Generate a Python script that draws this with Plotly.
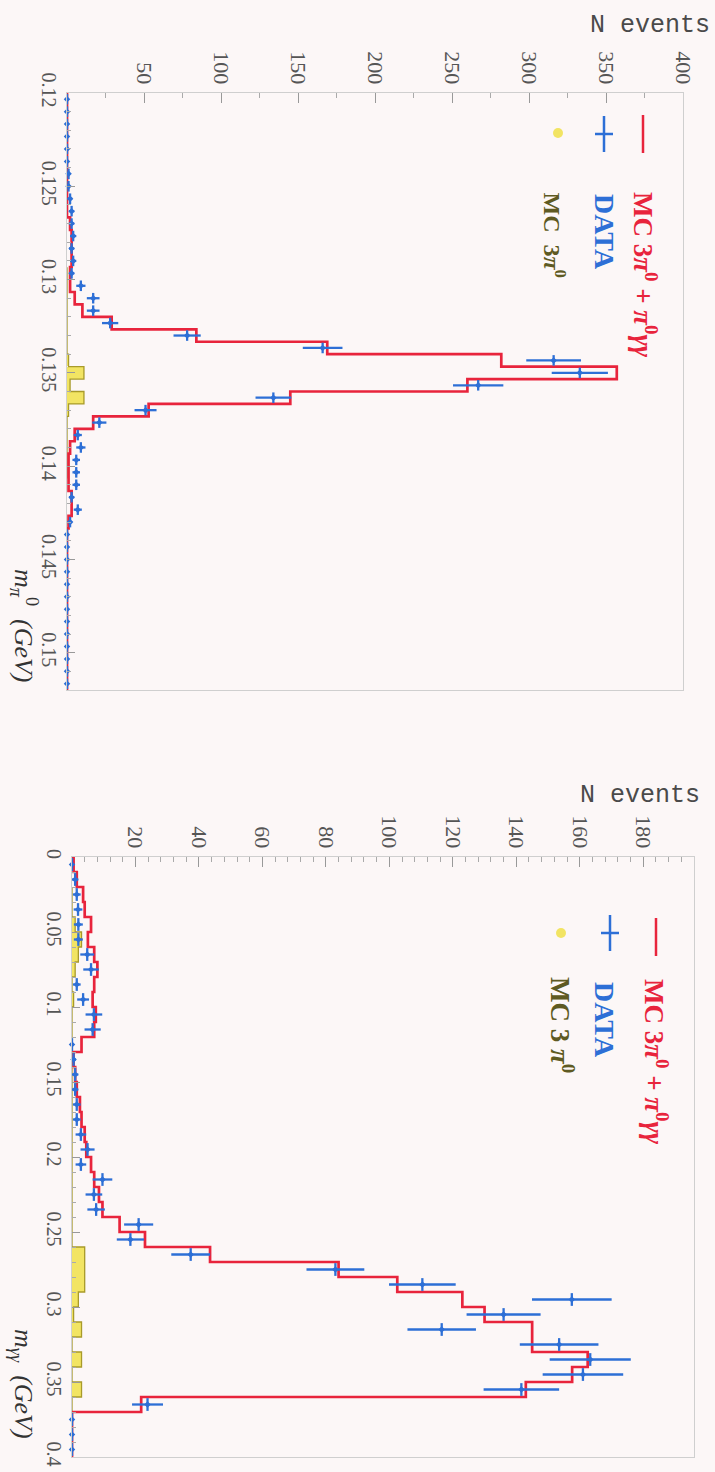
import numpy as np
import plotly.graph_objects as go

W, H = 715, 1472

# ---------------- data: top panel (m_pi0) ----------------
top_m_min = 0.12
top_bin_width = 0.032 / 48
top_mc_total = [0, 0, 0, 0, 0, 0, 0, 0, 0, 0,
                 2, 3, 3, 3, 2, 2, 5, 10, 29, 84,
                 169, 282, 357, 260, 145, 53, 17, 5, 2, 1,
                 1, 1, 3, 3, 1, 0, 0, 0, 0, 0,
                 0, 0, 0, 0, 0, 0, 0, 0]
top_data = [0, 0, 0, 0, 0, 0, 1, 1, 2, 3,
            3, 4, 3, 4, 3, 9, 17, 17, 28, 78,
            166, 316, 333, 267, 134, 51, 21, 7, 9, 6,
            6, 6, 3, 7, 2, 0, 0, 0, 0, 0,
            0, 0, 0, 0, 0, 0, 0, 0]
top_mc3pi0 = [None] * 14 + [0, 0, 0, 0, 0, 0, 0, 1, 11, 2,
                            11, 1, 0, 0, 0, 0, 0] + [None] * 17

# ---------------- data: bottom panel (m_gg) ----------------
bot_m_min = 0.0
bot_bin_width = 0.01
bot_mc_total = [0.5, 1.5, 3.5, 4, 6, 5, 7, 8, 7, 6.5,
                7.5, 7, 3, 0.5, 1, 1.5, 2.5, 3, 4, 4.5,
                6, 7, 8.5, 9.6, 15, 23, 43.5, 84, 102.5, 123,
                130, 145, 145, 162.5, 157.6, 143, 21.8, 0, 0, 0]
bot_data = [0, 1, 1.5, 1.9, 2, 2, 4.8, 6, 1.5, 3.5,
            6.9, 6.5, 0, 0.5, 1, 1, 1.5, 1.5, 2.8, 4.9,
            2.8, 9.6, 6.9, 7.6, 21, 18.4, 37.4, 83, 110.4, 157.5,
            136, 116.5, 153.5, 163.3, 161, 141.6, 23.8, 0, 0, 0]
bot_mc3pi0 = [None, None, 0, 0, 1, 3, 2, 1, 0, 0.5,
              0, 0, 0, 0, 0, 0, 0, 0, 0, 0,
              0, 0, 0, 0, 0, 0, 4, 4, 4, 2,
              0.5, 3, 0, 3, 0, 3, 0, 0, None, None]

top_ticks_N = [50, 100, 150, 200, 250, 300, 350, 400]
bot_ticks_N = [20, 40, 60, 80, 100, 120, 140, 160, 180]
top_ticks_m = [0.12, 0.125, 0.13, 0.135, 0.14, 0.145, 0.15]
top_ticks_m_text = ['0.12', '0.125', '0.13', '0.135', '0.14', '0.145', '0.15']
bot_ticks_m = [0, 0.05, 0.1, 0.15, 0.2, 0.25, 0.3, 0.35, 0.4]
bot_ticks_m_text = ['0', '0.05', '0.1', '0.15', '0.2', '0.25', '0.3', '0.35', '0.4']

RED = '#e8243c'
BLUE = '#2d6fd6'
YEL = '#f2e463'
OLIVE = '#a89a2a'
TXT_OLIVE = '#5e5a22'
BG = '#fcf7f7'


def px(xp):
    return xp / W


def py(yp):
    return 1 - yp / H


def add_panel(fig, xa, ya, m_min, bw, mc, data, mc3):
    n = len(mc)
    edges = m_min + bw * np.arange(n + 1)
    centers = edges[:-1] + bw / 2
    mc3_arr = np.array([np.nan if v is None else v for v in mc3], dtype=float)
    # MC 3pi0 yellow blocks
    fig.add_trace(go.Bar(x=mc3_arr, y=centers, orientation='h', width=bw * 0.95,
                         marker=dict(color=YEL, line=dict(width=0)),
                         xaxis=xa, yaxis=ya, showlegend=False))
    # MC 3pi0 outline (olive thin)
    idx = np.where(~np.isnan(mc3_arr))[0]
    ex = list(mc3_arr[idx]) + [mc3_arr[idx[-1]]]
    ey = list(edges[idx]) + [edges[idx[-1] + 1]]
    fig.add_trace(go.Scatter(x=ex, y=ey, mode='lines', line=dict(color=OLIVE, width=1.3, shape='vh'),
                             xaxis=xa, yaxis=ya, showlegend=False, cliponaxis=False))
    # MC total histogram (red)
    sx = [0] + list(mc) + [mc[-1]]
    sy = [edges[0]] + list(edges[:-1]) + [edges[-1]]
    fig.add_trace(go.Scatter(x=sx, y=sy, mode='lines', line=dict(color=RED, width=2.7, shape='vh'),
                             xaxis=xa, yaxis=ya, showlegend=False, cliponaxis=False))
    # DATA crosses
    d = np.array(data, dtype=float)
    fig.add_trace(go.Scatter(x=d, y=centers, mode='markers',
                             marker=dict(color=BLUE, size=5, symbol='diamond'),
                             error_x=dict(type='data', array=np.sqrt(d), color=BLUE, thickness=2.3, width=0),
                             error_y=dict(type='constant', value=bw / 2 * 0.85, color=BLUE, thickness=2.3, width=0),
                             xaxis=xa, yaxis=ya, showlegend=False, cliponaxis=False))


fig = go.Figure()
add_panel(fig, 'x', 'y', top_m_min, top_bin_width, top_mc_total, top_data, top_mc3pi0)
add_panel(fig, 'x2', 'y2', bot_m_min, bot_bin_width, bot_mc_total, bot_data, bot_mc3pi0)

xtickfont = dict(family='Liberation Serif', size=22, color='#555555')
ytickfont = dict(family='Liberation Serif', size=20, color='#555555')
common_x = dict(side='top', ticks='inside', ticklen=10, tickcolor='#999', tickangle=90,
                showline=True, mirror=True, linecolor='#cfcfcf', linewidth=1, automargin=False,
                showgrid=False, zeroline=False, tickfont=xtickfont)
common_y = dict(ticks='inside', ticklen=8, tickcolor='#999', tickangle=90, automargin=False,
                showline=True, mirror=True, linecolor='#cfcfcf', linewidth=1,
                showgrid=False, zeroline=False, tickfont=ytickfont)

fig.update_layout(
    width=W, height=H, margin=dict(l=0, r=0, t=0, b=0, autoexpand=False),
    paper_bgcolor=BG, plot_bgcolor=BG, bargap=0, barmode='overlay',
    xaxis=dict(common_x, domain=[px(67), px(683)], range=[0, 400], anchor='y',
               tickvals=top_ticks_N, ticktext=[str(v) for v in top_ticks_N],
               minor=dict(dtick=25, ticks='inside', ticklen=5, tickcolor='#aaa')),
    yaxis=dict(common_y, domain=[py(690), py(93)], range=[0.152, 0.12], anchor='x',
               tickvals=top_ticks_m, ticktext=top_ticks_m_text,
               minor=dict(dtick=0.001, ticks='inside', ticklen=4, tickcolor='#aaa')),
    xaxis2=dict(common_x, domain=[px(72), px(694)], range=[0, 196], anchor='y2',
                tickvals=bot_ticks_N, ticktext=[str(v) for v in bot_ticks_N],
                minor=dict(dtick=4, ticks='inside', ticklen=5, tickcolor='#aaa')),
    yaxis2=dict(common_y, domain=[py(1457), py(857)], range=[0.4, 0.0], anchor='x2',
                tickvals=bot_ticks_m, ticktext=bot_ticks_m_text,
                minor=dict(dtick=0.01, ticks='inside', ticklen=4, tickcolor='#aaa')),
)

ann = []


def note(x, y, text, size, color, angle=90, family='Liberation Serif', yanchor='middle'):
    ann.append(dict(x=px(x), y=py(y), xref='paper', yref='paper', text=text, showarrow=False,
                    textangle=angle, xanchor='center', yanchor=yanchor,
                    font=dict(family=family, size=size, color=color)))


note(650, 25, 'N events', 25, '#4a4a4a', angle=0, family='Liberation Mono')
note(640, 795, 'N events', 25, '#4a4a4a', angle=0, family='Liberation Mono')

red_txt = '<b>MC 3<i>π</i><sup>0</sup> + <i>π</i><sup>0</sup><i>γγ</i></b>'
note(645, 190, red_txt, 27, RED, yanchor='top')
note(605, 192, '<b>DATA</b>', 28, BLUE, yanchor='top')
note(555, 190, '<b>MC  3<i>π</i><sup>0</sup></b>', 24, TXT_OLIVE, yanchor='top')
note(656, 977, red_txt, 27, RED, yanchor='top')
note(605, 980, '<b>DATA</b>', 28, BLUE, yanchor='top')
note(562, 975, '<b>MC 3 <i>π</i><sup>0</sup></b>', 27, TXT_OLIVE, yanchor='top')

note(24, 567, '<i>m</i><sub><i>π</i></sub><sup>0</sup>  <i>(GeV)</i>', 26, '#333333', yanchor='top')
note(22, 1327, '<i>m</i><sub><i>γγ</i></sub>  <i>(GeV)</i>', 26, '#333333', yanchor='top')
fig.update_layout(annotations=ann)

# legend symbols
shapes = []
for (lx, ly) in [(643, 134), (656, 937)]:
    shapes.append(dict(type='line', xref='paper', yref='paper', x0=px(lx), x1=px(lx),
                       y0=py(ly - 19), y1=py(ly + 19), line=dict(color=RED, width=2.5)))
for (cx, cy) in [(604, 134), (610, 933)]:
    shapes.append(dict(type='line', xref='paper', yref='paper', x0=px(cx), x1=px(cx),
                       y0=py(cy - 18), y1=py(cy + 18), line=dict(color=BLUE, width=2.5)))
    shapes.append(dict(type='line', xref='paper', yref='paper', x0=px(cx - 9), x1=px(cx + 9),
                       y0=py(cy), y1=py(cy), line=dict(color=BLUE, width=2.5)))
for (cx, cy) in [(558, 133), (561, 933)]:
    shapes.append(dict(type='circle', xref='paper', yref='paper', x0=px(cx - 5), x1=px(cx + 5),
                       y0=py(cy - 5), y1=py(cy + 5), fillcolor=YEL, line=dict(width=0)))
fig.update_layout(shapes=shapes)

fig.write_html('out.html', config={'displayModeBar': False},
               post_script="document.body.style.margin='0';")
